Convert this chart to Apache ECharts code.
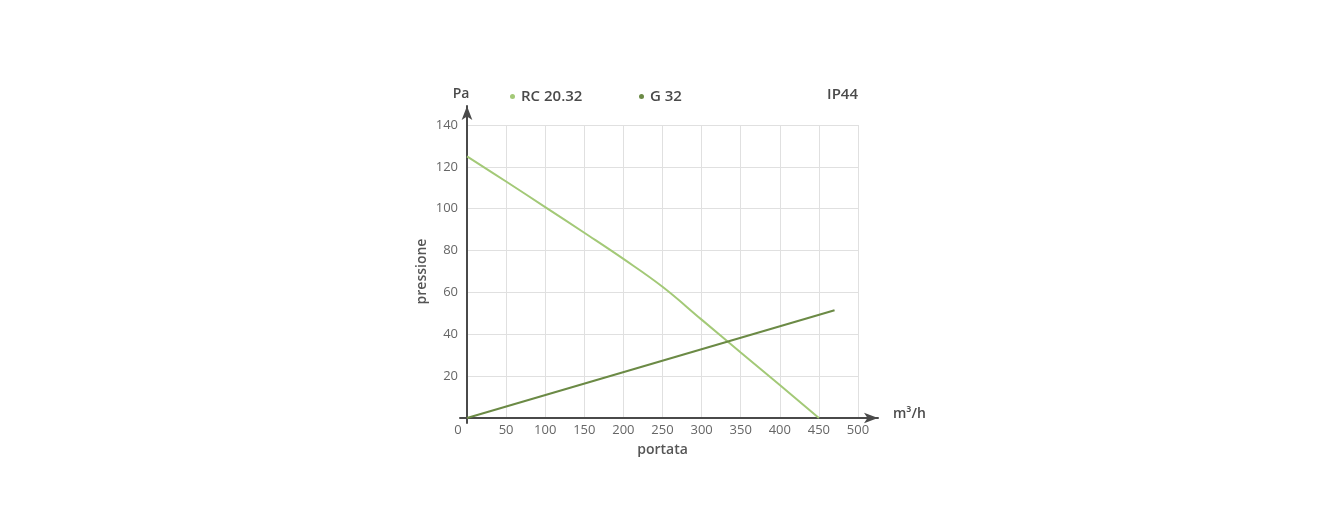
<!DOCTYPE html>
<html>
<head>
<meta charset="utf-8">
<script src="https://cdn.jsdelivr.net/npm/echarts@6/dist/echarts.min.js"></script>
<style>
  html, body { margin: 0; padding: 0; background: #fff; }
  #chart { width: 1338px; height: 530px; }
</style>
</head>
<body>
<div id="chart"></div>
<script>
// dati
var portata = [0, 50, 100, 150, 200, 250, 300, 350, 400, 450];
var rc2032 = [125, 113, 100.8, 88.5, 76, 62.7, 47, 31.3, 15.8, 0];
var g32Portata = [0, 470];
var g32 = [0, 51.5];
var xTicks = [0, 50, 100, 150, 200, 250, 300, 350, 400, 450, 500];
var yTicks = [0, 20, 40, 60, 80, 100, 120, 140];

var FONT = "Open Sans";
var GRID_COLOR = "#e0e0e0";
var AXIS_COLOR = "#4a4a4a";
var TEXT_COLOR = "#666";

function pairs(xs, ys) {
  return xs.map(function (x, i) { return [x, ys[i]]; });
}

var myChart = echarts.init(document.getElementById("chart"));

var option = {
  animation: false,
  textStyle: { fontFamily: FONT },
  title: {
    text: "IP44",
    right: 480,
    top: 87,
    padding: 0,
    textStyle: { fontFamily: FONT, fontSize: 15, fontWeight: 600, color: "#4a4a4a" }
  },
  legend: [
    {
      data: ["RC 20.32"],
      left: 505,
      top: 84,
      icon: "circle",
      itemWidth: 5,
      itemHeight: 5,
      textStyle: { fontFamily: FONT, fontSize: 15, fontWeight: 600, color: "#4a4a4a", padding: [0, 0, 0, 1] }
    },
    {
      data: ["G 32"],
      left: 634,
      top: 84,
      icon: "circle",
      itemWidth: 5,
      itemHeight: 5,
      textStyle: { fontFamily: FONT, fontSize: 15, fontWeight: 600, color: "#4a4a4a", padding: [0, 0, 0, 1] }
    }
  ],
  grid: [
    // area dati
    { left: 467, right: 480, top: 125, bottom: 112 },
    // linea asse x con freccia
    { left: 460, right: 460, top: 125, bottom: 112 },
    // linea asse y con freccia
    { left: 467, right: 480, top: 106, bottom: 107 }
  ],
  xAxis: [
    {
      gridIndex: 0,
      type: "value",
      min: xTicks[0],
      max: xTicks[xTicks.length - 1],
      interval: 50,
      name: "portata",
      nameLocation: "middle",
      nameGap: 25,
      nameTextStyle: { fontFamily: FONT, fontSize: 14, fontWeight: 600, color: "#555" },
      axisLine: { show: false },
      axisTick: { show: false },
      axisLabel: {
        margin: 6,
        fontFamily: FONT,
        fontSize: 13,
        color: TEXT_COLOR,
        formatter: function (v) { return v === 0 ? "{z|0}" : String(v); },
        rich: { z: { fontFamily: FONT, fontSize: 13, color: TEXT_COLOR, padding: [0, 18, 0, 0] } }
      },
      splitLine: { show: true, lineStyle: { color: GRID_COLOR, width: 1 } }
    },
    {
      gridIndex: 1,
      type: "value",
      min: 0,
      max: 1,
      name: "m\u00b3/h",
      nameLocation: "end",
      nameGap: 15,
      nameTextStyle: { fontFamily: FONT, fontSize: 14, fontWeight: 600, color: "#4a4a4a", verticalAlign: "bottom", padding: [0, 0, -3, 0] },
      axisLine: {
        show: true,
        symbol: ["none", "arrow"],
        symbolSize: [8, 14],
        lineStyle: { color: AXIS_COLOR, width: 2 }
      },
      axisTick: { show: false },
      axisLabel: { show: false },
      splitLine: { show: false }
    },
    { gridIndex: 2, type: "value", min: 0, max: 1, show: false }
  ],
  yAxis: [
    {
      gridIndex: 0,
      type: "value",
      min: yTicks[0],
      max: yTicks[yTicks.length - 1],
      interval: 20,
      name: "pressione",
      nameLocation: "middle",
      nameGap: 38,
      nameRotate: 90,
      nameTextStyle: { fontFamily: FONT, fontSize: 14, fontWeight: 600, color: "#555" },
      axisLine: { show: false },
      axisTick: { show: false },
      axisLabel: {
        margin: 9,
        fontFamily: FONT,
        fontSize: 13,
        color: TEXT_COLOR,
        formatter: function (v) { return v === 0 ? "" : String(v); }
      },
      splitLine: { show: true, lineStyle: { color: GRID_COLOR, width: 1 } }
    },
    { gridIndex: 1, type: "value", min: 0, max: 1, show: false },
    {
      gridIndex: 2,
      type: "value",
      min: 0,
      max: 1,
      name: "Pa",
      nameLocation: "end",
      nameGap: 5,
      nameTextStyle: { fontFamily: FONT, fontSize: 14, fontWeight: 600, color: "#4a4a4a", padding: [0, 12, 0, 0] },
      axisLine: {
        show: true,
        symbol: ["none", "arrow"],
        symbolSize: [8, 14],
        lineStyle: { color: AXIS_COLOR, width: 2 }
      },
      axisTick: { show: false },
      axisLabel: { show: false },
      splitLine: { show: false }
    }
  ],
  series: [
    {
      name: "RC 20.32",
      type: "line",
      xAxisIndex: 0,
      yAxisIndex: 0,
      data: pairs(portata, rc2032),
      smooth: 0.4,
      showSymbol: false,
      symbol: "none",
      color: "#a3c977",
      lineStyle: { color: "#a3c977", width: 2 },
      z: 3
    },
    {
      name: "G 32",
      type: "line",
      xAxisIndex: 0,
      yAxisIndex: 0,
      data: pairs(g32Portata, g32),
      showSymbol: false,
      symbol: "none",
      color: "#6b8a45",
      lineStyle: { color: "#6b8a45", width: 2 },
      z: 4
    }
  ]
};

myChart.setOption(option);
</script>
</body>
</html>
